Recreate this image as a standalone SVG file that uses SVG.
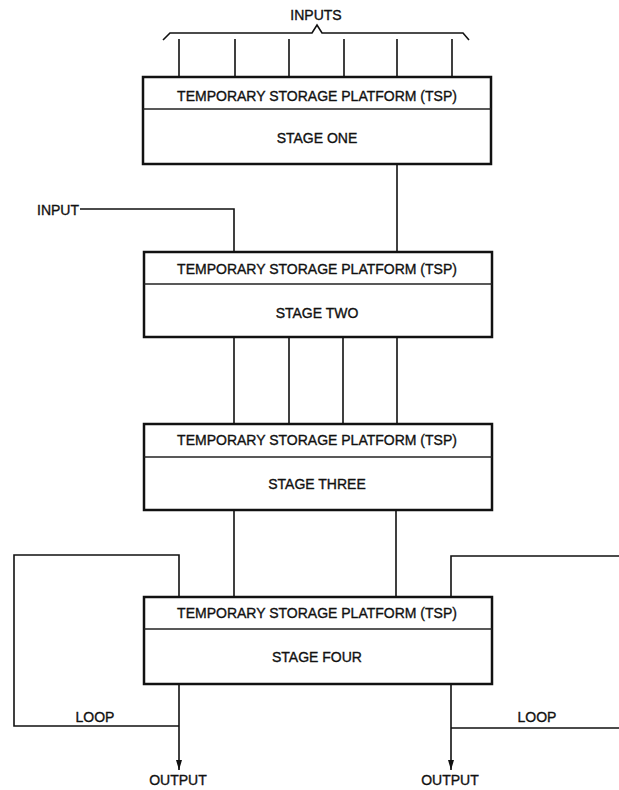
<svg xmlns="http://www.w3.org/2000/svg" width="619" height="790" viewBox="0 0 619 790">
<style>
.box{fill:#fff;stroke:#111;stroke-width:2.5}
.div{stroke:#222;stroke-width:1.3}
.ln{fill:none;stroke:#111;stroke-width:1.6}
text{font-family:"Liberation Sans",Arial,sans-serif;font-size:14px;fill:#111;stroke:#111;stroke-width:0.35;text-anchor:middle}
</style>
<defs>
<marker id="arr" viewBox="0 0 10 6" refX="10" refY="3" markerWidth="10" markerHeight="6" markerUnits="userSpaceOnUse" orient="auto">
<path d="M0,0 L10,3 L0,6 Z" fill="#111"/>
</marker>
</defs>
<rect width="619" height="790" fill="#fff"/>
<g id="connectors">
<path class="ln" d="M163,40 L170,33 L312,33 L317,25 L322,33 L463,33 L469,40"/>
<path class="ln" d="M179,39 V78 M235,39 V78 M289,39 V78 M344,39 V78 M397,39 V78 M452,39 V78"/>
<path class="ln" d="M397,164 V252"/>
<path class="ln" d="M80,209 H234 V252"/>
<path class="ln" d="M234,337 V424 M289,337 V424 M343,337 V424 M397,337 V424"/>
<path class="ln" d="M234,510 V597 M396,510 V597"/>
<path class="ln" d="M179,597 V555 H14 V726 H179"/>
<path class="ln" d="M451,597 V556 H619 M451,728 H619"/>
<path class="ln" d="M179,684 V770" marker-end="url(#arr)"/>
<path class="ln" d="M451,684 V770" marker-end="url(#arr)"/>
</g>
<g id="labels">
<text x="316" y="20">INPUTS</text>
<text x="58" y="215">INPUT</text>
<text x="95" y="722">LOOP</text>
<text x="537" y="722">LOOP</text>
<text x="178" y="785">OUTPUT</text>
<text x="450" y="785">OUTPUT</text>
</g>
<g id="stage1">
<rect class="box" x="143" y="77" width="348" height="87"/>
<line class="div" x1="143" y1="109" x2="491" y2="109"/>
<text x="317" y="101">TEMPORARY STORAGE PLATFORM (TSP)</text>
<text x="317" y="143">STAGE ONE</text>
</g>
<g id="stage2">
<rect class="box" x="144" y="252" width="348" height="85"/>
<line class="div" x1="144" y1="284" x2="492" y2="284"/>
<text x="317" y="274">TEMPORARY STORAGE PLATFORM (TSP)</text>
<text x="317" y="318">STAGE TWO</text>
</g>
<g id="stage3">
<rect class="box" x="144" y="424" width="348" height="86"/>
<line class="div" x1="144" y1="457" x2="492" y2="457"/>
<text x="317" y="445">TEMPORARY STORAGE PLATFORM (TSP)</text>
<text x="317" y="489">STAGE THREE</text>
</g>
<g id="stage4">
<rect class="box" x="144" y="597" width="348" height="87"/>
<line class="div" x1="144" y1="629" x2="492" y2="629"/>
<text x="317" y="618">TEMPORARY STORAGE PLATFORM (TSP)</text>
<text x="317" y="662">STAGE FOUR</text>
</g>
</svg>
